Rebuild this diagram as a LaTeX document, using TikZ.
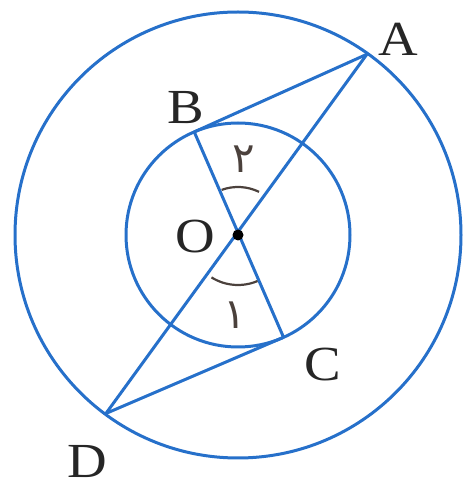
\documentclass[tikz,border=0pt]{standalone}
\usetikzlibrary{calc}
\usepackage{fontspec}
\setmainfont{Liberation Serif}
\newfontfamily\labfont[FakeStretch=1.12]{Liberation Serif}
\newfontfamily\arabicfont[Script=Arabic]{DejaVu Sans}
\definecolor{lineblue}{RGB}{38,112,202}
\definecolor{arcgray}{RGB}{75,65,60}
\tikzset{
  geo/.style={draw=lineblue, line width=3pt},
  anglearc/.style={draw=arcgray, line width=2.2pt},
  ptlabel/.style={inner sep=0pt, text=black!85, font=\labfont\fontsize{49}{52}\selectfont},
  anglabel/.style={inner sep=0pt, font=\arabicfont\fontsize{42}{46}\selectfont, text=arcgray}
}
\begin{document}
\begin{tikzpicture}[x=1pt,y=1pt]
\useasboundingbox (0,0) rectangle (466,490);
\coordinate (O) at (238,255);
\coordinate (A) at ($(O)+(54.5:222)$);
\coordinate (D) at ($(O)+(233.5:222)$);
\coordinate (B) at ($(O)+(113:112)$);
\coordinate (C) at ($(O)+(294:112)$);
% circles
\draw[geo] (O) circle[radius=223];
\draw[geo] (O) circle[radius=112];
% segments
\draw[geo] (A) -- (D);
\draw[geo] (B) -- (C);
\draw[geo] (A) -- (B);
\draw[geo] (D) -- (C);
% angle arcs
\draw[anglearc] ($(O)+(64:48)$) arc[start angle=64, end angle=110, radius=48];
\draw[anglearc] ($(O)+(238:50)$) arc[start angle=238, end angle=293, radius=50];
% center dot
\fill[black] (O) circle[radius=5.5];
% labels
\node[ptlabel] (lA) at (398,451) {A};
\node[ptlabel] (lB) at (186,382) {B};
\node[ptlabel] (lO) at (195,253) {O};
\node[ptlabel] (lC) at (323,125) {C};
\node[ptlabel] (lD) at (87,28) {D};
\node[anglabel] (l2) at (244,331) {۲};
\node[anglabel] (l1) at (235,175) {۱};
\end{tikzpicture}
\end{document}
